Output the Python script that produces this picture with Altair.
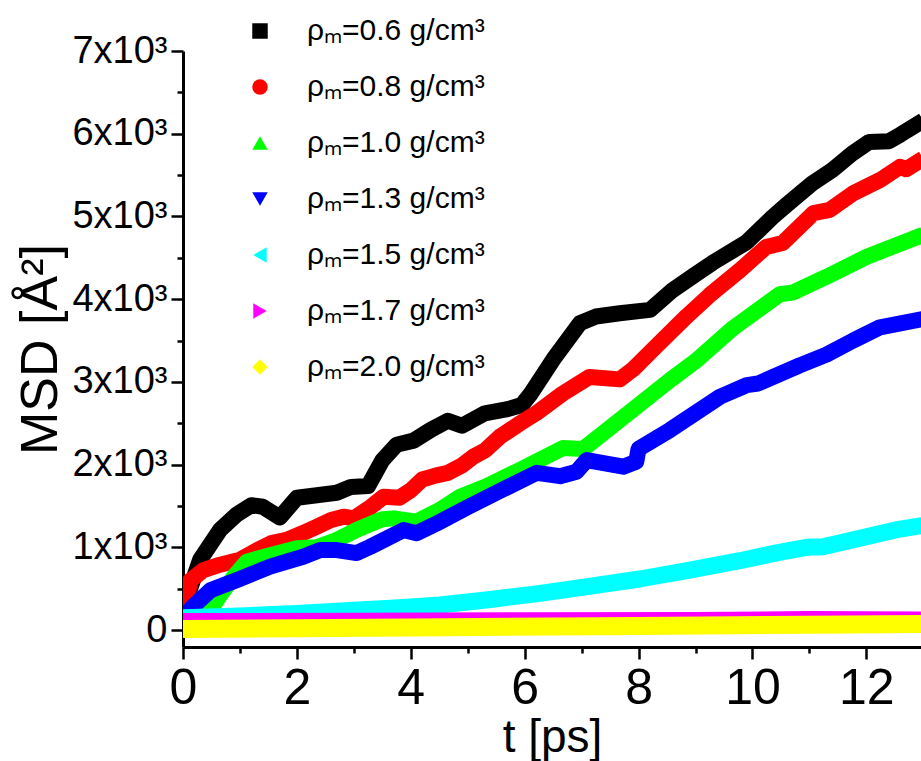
import altair as alt
import pandas as pd

labels = ["ρₘ=0.6 g/cm³", "ρₘ=0.8 g/cm³", "ρₘ=1.0 g/cm³", "ρₘ=1.3 g/cm³",
          "ρₘ=1.5 g/cm³", "ρₘ=1.7 g/cm³", "ρₘ=2.0 g/cm³"]
colors = ["#000000", "#ff0000", "#00ff00", "#0000ff", "#00ffff", "#ff00ff", "#ffff00"]
shapes = ["square", "circle", "triangle-up", "triangle-down", "triangle-left",
          "triangle-right", "diamond"]

t_06 = [0, 0.1, 0.3, 0.65, 0.95, 1.2, 1.4, 1.7, 2.0, 2.35, 2.7, 2.95, 3.25, 3.5, 3.75,
        4.05, 4.35, 4.65, 4.9, 5.3, 5.7, 5.95, 6.1, 6.5, 6.97, 7.25, 7.67, 8.2, 8.6,
        9.0, 9.3, 9.9, 10.35, 10.6, 11.05, 11.4, 11.75, 12.05, 12.4, 12.6, 13.0]
v_06 = [150, 450, 850, 1210, 1400, 1510, 1490, 1360, 1600, 1630, 1660, 1730, 1740,
        2050, 2240, 2290, 2420, 2530, 2470, 2620, 2670, 2720, 2850, 3270, 3710, 3790,
        3830, 3870, 4110, 4300, 4440, 4690, 4990, 5140, 5400, 5560, 5760, 5900, 5910,
        5990, 6160]

t_08 = [0, 0.13, 0.36, 0.65, 1.0, 1.3, 1.55, 1.82, 2.1, 2.35, 2.6, 2.82, 3.0, 3.3, 3.52,
        3.8, 4.0, 4.2, 4.45, 4.65, 4.9, 5.1, 5.3, 5.57, 5.92, 6.2, 6.67, 7.14, 7.67,
        7.9, 8.25, 8.84, 9.25, 9.78, 10.24, 10.53, 11.07, 11.36, 11.77, 12.24, 12.59,
        12.7, 13.0]
v_08 = [150, 600, 725, 790, 850, 965, 1050, 1090, 1170, 1250, 1330, 1370, 1350, 1490,
        1610, 1600, 1690, 1820, 1870, 1900, 1990, 2096, 2170, 2340, 2500, 2620, 2860,
        3060, 3030, 3150, 3390, 3790, 4050, 4350, 4630, 4680, 5040, 5080, 5280, 5440,
        5600, 5570, 5700]

t_10 = [0, 0.4, 0.65, 0.9, 1.12, 1.5, 2.0, 2.35, 2.7, 3.05, 3.5, 3.7, 4.1, 4.5, 4.86,
        5.33, 5.9, 6.67, 7.03, 7.67, 8.55, 9.0, 9.66, 10.48, 10.71, 11.3, 12.0, 13.0]
v_10 = [150, 160, 420, 650, 826, 900, 990, 1000, 1090, 1210, 1340, 1350, 1310, 1450,
        1610, 1740, 1930, 2200, 2190, 2540, 3020, 3250, 3650, 4060, 4080, 4270, 4510,
        4780]

t_13 = [0, 0.2, 0.48, 0.95, 1.53, 2.11, 2.41, 2.7, 3.05, 3.29, 3.87, 4.1, 4.46, 5.04,
        5.62, 6.21, 6.62, 6.91, 7.09, 7.73, 7.96, 8.0, 8.55, 9.43, 9.9, 10.1, 10.83,
        11.3, 11.77, 12.24, 13.0]
v_13 = [150, 300, 480, 605, 766, 886, 967, 967, 930, 1007, 1209, 1170, 1290, 1500,
        1700, 1900, 1860, 1914, 2055, 1975, 2035, 2190, 2418, 2820, 2960, 2980, 3200,
        3330, 3500, 3660, 3760]

t_15 = [0, 1, 2, 3, 3.8, 4.51, 5.4, 6.27, 7.1, 8.02, 8.9, 9.78, 10.4, 10.95, 11.24,
        12.59, 13.0]
v_15 = [150, 170, 200, 240, 270, 302, 370, 443, 525, 617, 725, 838, 930, 1000, 1007,
        1221, 1265]

t_17 = [0, 3, 6, 9, 11, 13]
v_17 = [120, 125, 130, 135, 145, 140]

t_20 = [0, 4, 8, 11, 13]
v_20 = [12, 30, 50, 65, 72]

series_t = [t_06, t_08, t_10, t_13, t_15, t_17, t_20]
series_v = [v_06, v_08, v_10, v_13, v_15, v_17, v_20]
widths = [16, 16, 16, 16, 17, 14, 18]

rows = []
for lab, ts, vs in zip(labels, series_t, series_v):
    for t, v in zip(ts, vs):
        rows.append({"series": lab, "t": t, "msd": v})
df = pd.DataFrame(rows)

FONT = "Liberation Sans"

xscale = alt.Scale(domain=[0, 12.96], nice=False, zero=False)
yscale = alt.Scale(domain=[-205, 7000], nice=False, zero=False)

xaxis = alt.Axis(
    values=list(range(0, 13)),
    labelExpr="datum.value % 2 === 0 ? datum.label : ''",
    tickSize={"condition": {"test": "datum.value % 2 === 0", "value": 12}, "value": 6},
    labelFontSize=50, labelFont=FONT, labelColor="black", labelPadding=4,
    title="t [ps]", titleFontSize=46, titleFont=FONT, titleFontWeight="normal",
    titleColor="black", titlePadding=2,
    domainColor="black", domainWidth=3, tickColor="black", tickWidth=2.5,
    grid=False, labelFlush=False,
)
yaxis = alt.Axis(
    values=list(range(0, 7001, 500)),
    labelExpr="datum.value === 0 ? '0' : (datum.value % 1000 === 0 ? (datum.value/1000) + 'x10³' : '')",
    tickSize={"condition": {"test": "datum.value % 1000 === 0", "value": 12}, "value": 6},
    labelFontSize=38, labelFont=FONT, labelColor="black", labelPadding=4,
    title="MSD [Å²]", titleFontSize=52, titleFont=FONT, titleFontWeight="normal",
    titleColor="black", titlePadding=4,
    domainColor="black", domainWidth=3, tickColor="black", tickWidth=2.5,
    grid=False, labelFlush=False,
)

layers = []
# invisible points carry the legend (shape + colour)
legend = alt.Legend(
    title=None, orient="none", legendX=62, legendY=-35,
    labelFontSize=30, labelFont=FONT, labelColor="black",
    symbolSize=240, symbolOpacity=1, symbolStrokeWidth=0,
    rowPadding=26, labelOffset=32, labelLimit=400,
)
pts = alt.Chart(df).mark_point(filled=True, opacity=0, size=10, clip=True).encode(
    x=alt.X("t:Q", scale=xscale, axis=xaxis),
    y=alt.Y("msd:Q", scale=yscale, axis=yaxis),
    color=alt.Color("series:N", scale=alt.Scale(domain=labels, range=colors), legend=legend),
    shape=alt.Shape("series:N", scale=alt.Scale(domain=labels, range=shapes), legend=legend),
)
layers.append(pts)

for lab, col, w in zip(labels, colors, widths):
    ln = alt.Chart(df).transform_filter(alt.datum.series == lab).mark_line(
        color=col, strokeWidth=w, strokeJoin="round", clip=True
    ).encode(
        x=alt.X("t:Q", scale=xscale, axis=xaxis),
        y=alt.Y("msd:Q", scale=yscale, axis=yaxis),
        order="t:Q",
    )
    layers.append(ln)

chart = alt.layer(*layers).properties(
    width=738, height=596,
    autosize=alt.AutoSizeParams(type="none"),
    padding={"left": 183, "top": 51, "right": 0, "bottom": 114},
    background="white",
).configure_view(stroke=None)

chart.save("out.html", embed_options={"renderer": "svg", "actions": False})
